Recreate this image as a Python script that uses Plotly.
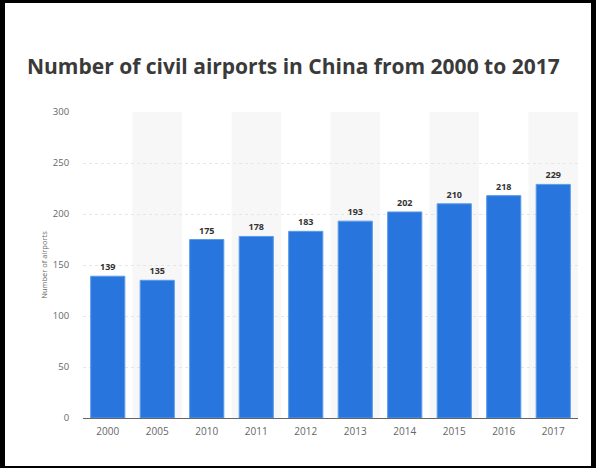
import plotly.graph_objects as go

years = ["2000", "2005", "2010", "2011", "2012", "2013", "2014", "2015", "2016", "2017"]
airports = [139, 135, 175, 178, 183, 193, 202, 210, 218, 229]
y_ticks = [0, 50, 100, 150, 200, 250, 300]

W, H = 596, 468
L, R, T, B = 83, 18, 112, 50
pw, ph = W - L - R, H - T - B

def px_x(p):
    return (p - L) / pw

def px_y(p):
    return (H - B - p) / ph

fig = go.Figure()
fig.add_trace(go.Bar(
    x=years, y=airports,
    marker=dict(color="#2876dd", line=dict(color="#5b9be9", width=1)),
    text=[str(v) for v in airports],
    textposition="outside",
    textfont=dict(family="Open Sans", size=9, color="#333333", weight="bold"),
    cliponaxis=False,
))

shapes = []
for i in range(len(years)):
    if i % 2 == 1:
        shapes.append(dict(type="rect", xref="x", yref="paper", x0=i - 0.5, x1=i + 0.5,
                           y0=0, y1=1, fillcolor="#f7f7f7", line=dict(width=0), layer="below"))
# black frame
frame = dict(xref="paper", yref="paper", type="rect", fillcolor="black", line=dict(width=0), layer="above")
shapes.append(dict(frame, x0=px_x(0), x1=px_x(5), y0=px_y(H), y1=px_y(0)))
shapes.append(dict(frame, x0=px_x(591), x1=px_x(W), y0=px_y(H), y1=px_y(0)))
shapes.append(dict(frame, x0=px_x(0), x1=px_x(W), y0=px_y(3), y1=px_y(0)))
shapes.append(dict(frame, x0=px_x(0), x1=px_x(W), y0=px_y(H), y1=px_y(466)))

fig.update_layout(
    width=W, height=H,
    margin=dict(l=L, r=R, t=T, b=B, pad=0),
    paper_bgcolor="white", plot_bgcolor="white",
    bargap=0.31,
    showlegend=False,
    shapes=shapes,
    title=dict(text="Number of civil airports in China from 2000 to 2017",
               x=27 / W, xanchor="left", xref="container",
               y=1 - 67 / H, yanchor="middle", yref="container",
               font=dict(family="Open Sans", size=21, color="#3a3a3a", weight="bold")),
    font=dict(family="Open Sans", color="#666666"),
)
fig.update_xaxes(
    type="category", tickfont=dict(size=10, color="#666666"),
    showline=True, linecolor="#666666", linewidth=1,
    ticks="outside", ticklen=4, tickcolor="rgba(0,0,0,0)",
    showgrid=False,
)
fig.update_yaxes(
    range=[0, 300], tickvals=y_ticks, ticktext=[str(v) for v in y_ticks],
    tickfont=dict(size=9.5, color="#666666"),
    ticks="outside", ticklen=11, tickcolor="rgba(0,0,0,0)",
    showgrid=True, gridcolor="#e6e6e6", griddash="dot", gridwidth=1,
    zeroline=False,
    title=dict(text="Number of airports", font=dict(size=7.5, color="#666666"), standoff=4),
)
fig.write_html("out.html", config={"displayModeBar": False},
               post_script="document.body.style.margin='0';document.body.style.overflow='hidden';")
